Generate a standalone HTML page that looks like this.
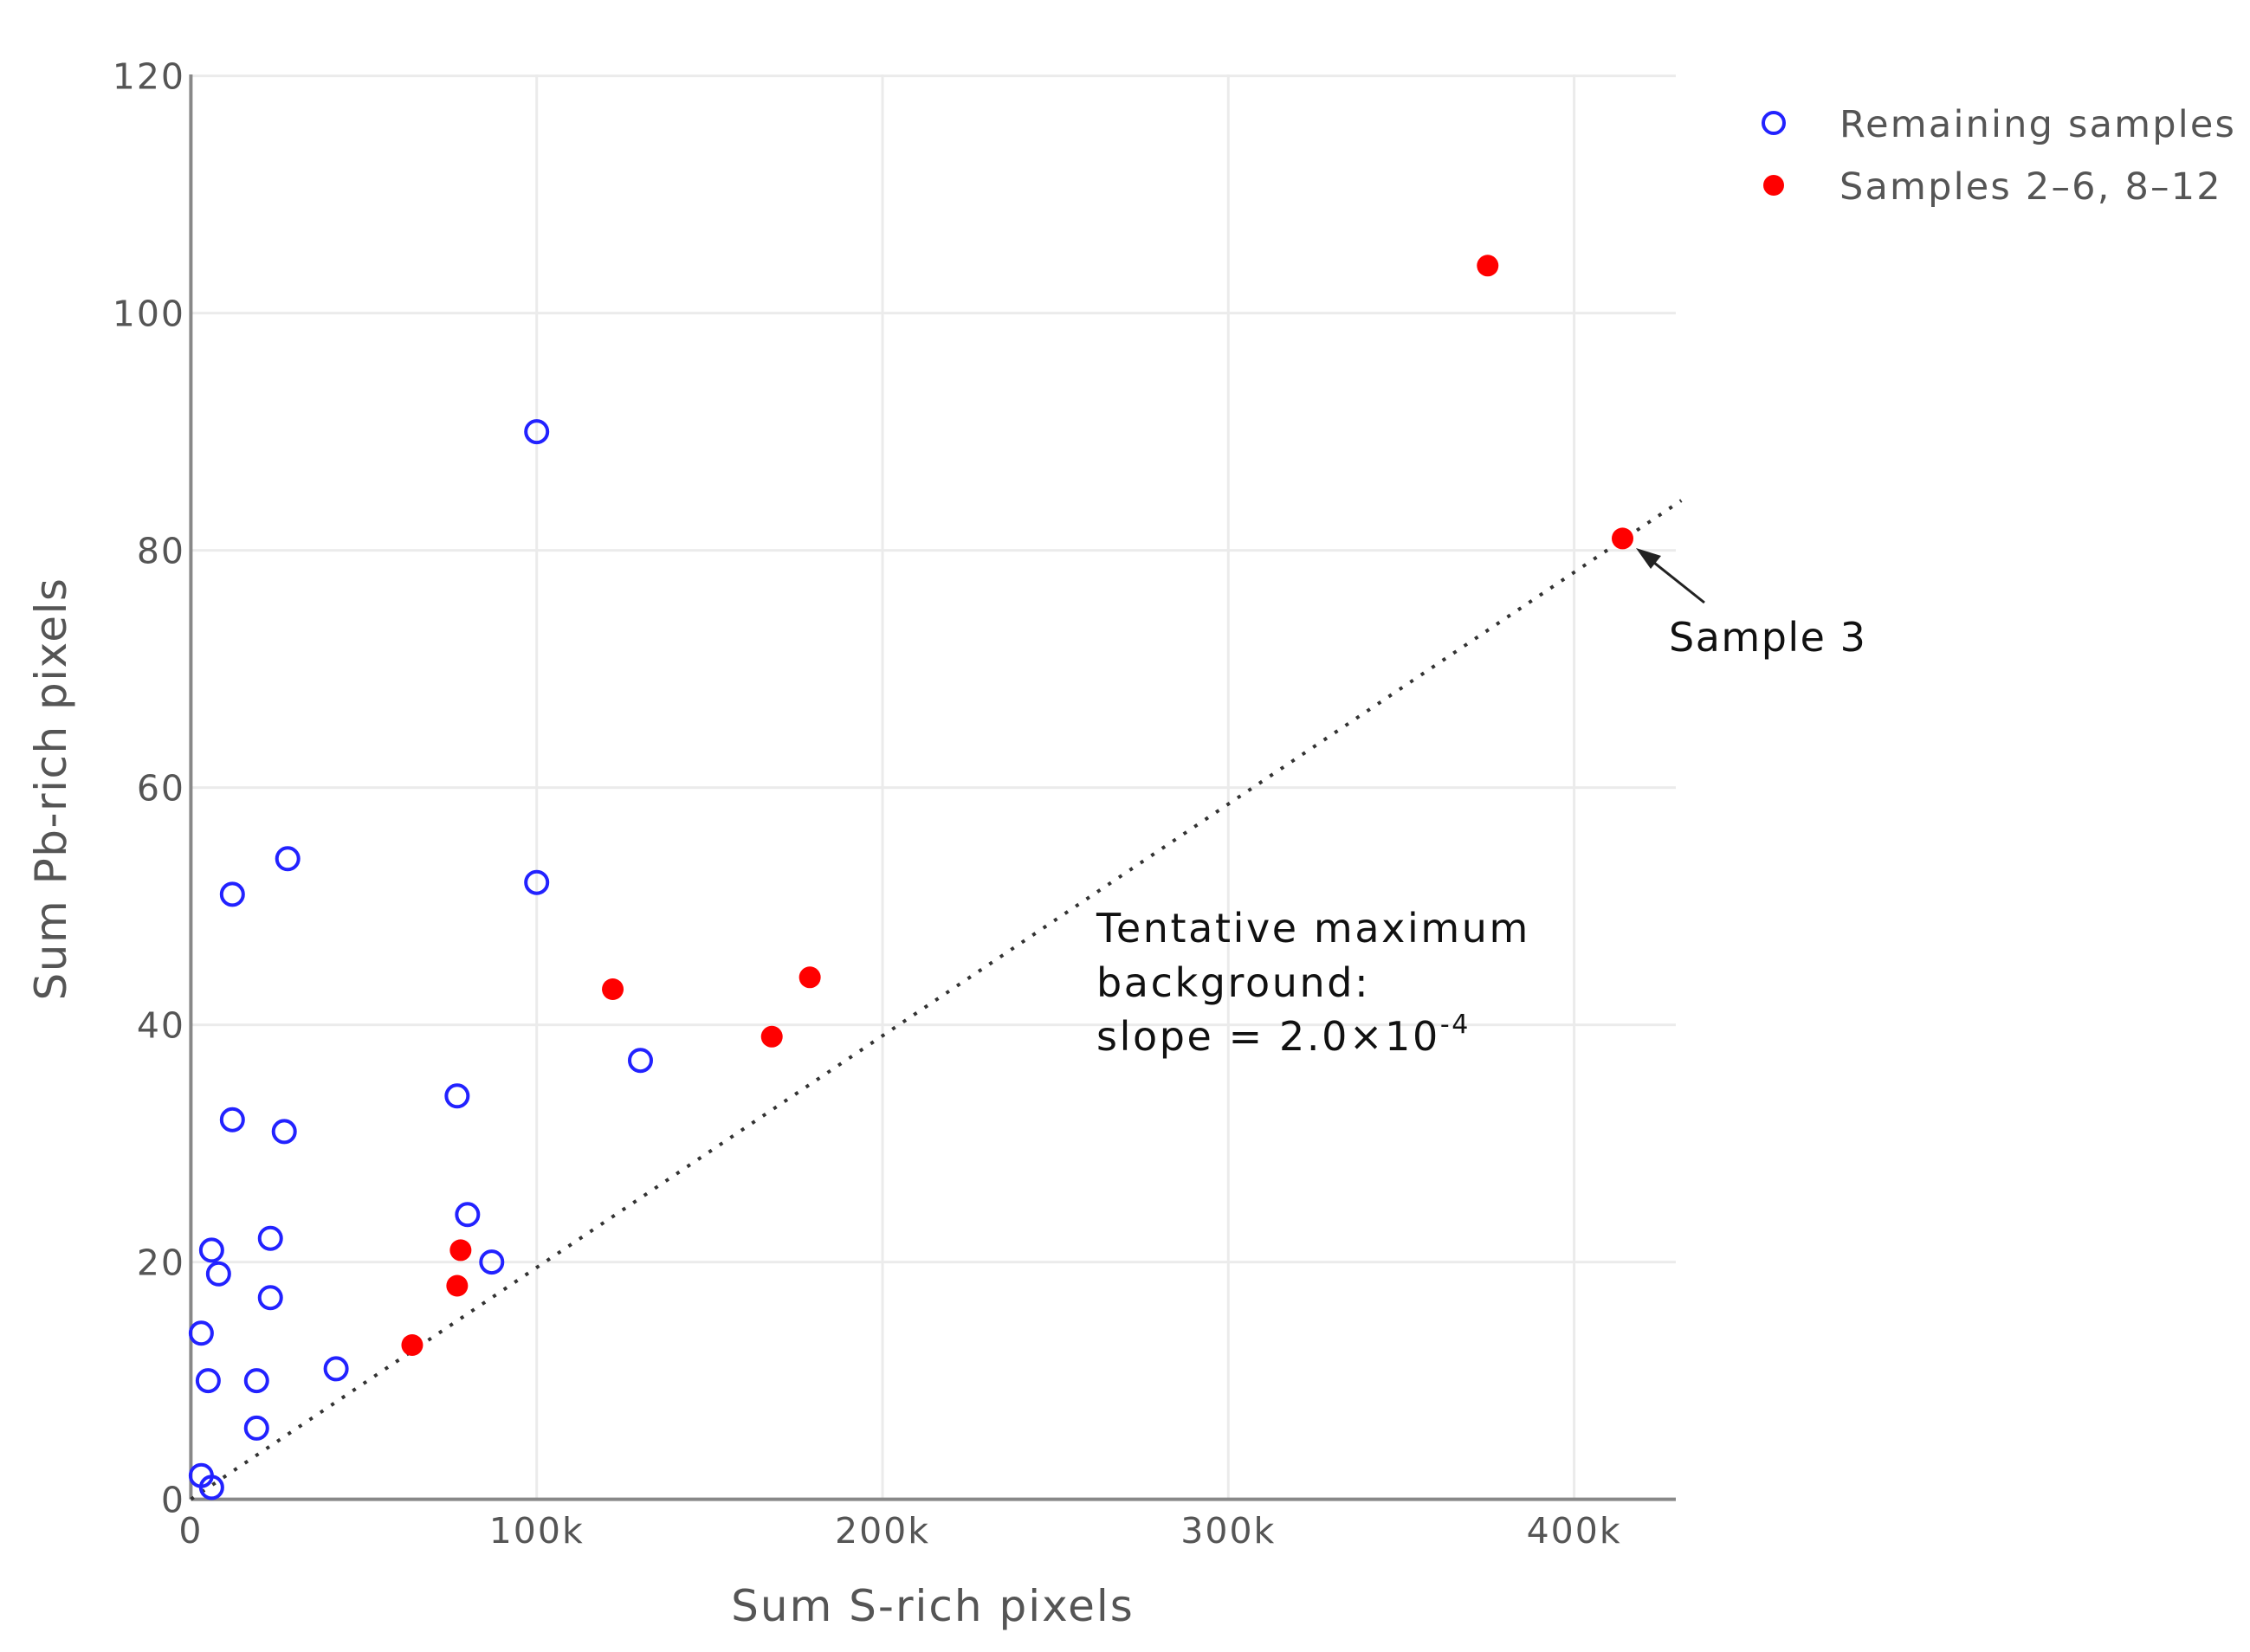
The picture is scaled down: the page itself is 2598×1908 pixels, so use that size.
<!DOCTYPE html>
<html><head><meta charset="utf-8"><style>
html,body{margin:0;padding:0;background:#fff}
svg{display:block}
</style></head><body>
<svg id="chart" width="2598" height="1908" xmlns="http://www.w3.org/2000/svg" font-family="'DejaVu Sans', 'Liberation Sans', sans-serif">
<g id="grid"></g>
<g id="axes"></g>
<g id="marks"></g>
<text x="1077" y="1872" font-size="50" fill="#555" text-anchor="middle" letter-spacing="2">Sum S-rich pixels</text>
<text transform="translate(76,911) rotate(-90)" font-size="50" fill="#555" text-anchor="middle" letter-spacing="1.5">Sum Pb-rich pixels</text>
<g>
<circle cx="2048" cy="142" r="12" fill="none" stroke="#2222ff" stroke-width="4"/>
<text x="2124" y="158" font-size="43" fill="#555" letter-spacing="2.2">Remaining samples</text>
<circle cx="2048" cy="214" r="12" fill="#ff0000"/>
<text x="2124" y="230" font-size="43" fill="#555" letter-spacing="2.2">Samples 2–6, 8–12</text>
</g>
<g font-size="46" fill="#111" letter-spacing="2.6">
<text x="1266" y="1088">Tentative maximum</text>
<text x="1266" y="1151">background:</text>
<text x="1266" y="1213">slope = 2.0×10<tspan dy="-20" font-size="30">-4</tspan></text>
</g>
<g>
<line x1="1968" y1="696" x2="1900" y2="642" stroke="#222" stroke-width="3"/>
<polygon points="1889,633 1918,642 1906,657" fill="#222"/>
<text x="1927" y="752" font-size="46" fill="#111" letter-spacing="1.5">Sample 3</text>
</g>
</svg>
<script>
const xTicks=[0,100,200,300,400];
const xTickLabels=["0","100k","200k","300k","400k"];
const yTicks=[0,20,40,60,80,100,120];
const blueX=[100,100,28,12,130,77,12,27,80,23,87,6,8,23,3,5,19,42,19,3,6];
const blueY=[90,52,54,51,37,34,32,31,24,22,20,21,19,17,14,10,10,11,6,2,1];
const redX=[375,414,122,179,168,78,77,64];
const redY=[104,81,43,44,39,21,18,13];
const lineX=[0,431];
const lineY=[0,84.2];
const NS="http://www.w3.org/2000/svg";
const X0=220.4,XS=3.993,Y0=1731.6,YS=13.7,XR=1935,YT=86;
const sx=v=>X0+v*XS, sy=v=>Y0-v*YS;
function mk(tag,attrs,parent){const e=document.createElementNS(NS,tag);for(const k in attrs)e.setAttribute(k,attrs[k]);parent.appendChild(e);return e;}
const grid=document.getElementById('grid'),axes=document.getElementById('axes'),marks=document.getElementById('marks');
xTicks.forEach((t,i)=>{
 if(t>0){const g=mk('line',{x1:sx(t),x2:sx(t),y1:YT,y2:Y0,stroke:'#ebebeb','stroke-width':3},grid);
 
 }
 const l=mk('text',{x:sx(t),y:1782,'font-size':41,fill:'#555','text-anchor':'middle','letter-spacing':2},axes);l.textContent=xTickLabels[i];
 
 
});
yTicks.forEach(t=>{
 if(t>0){const g=mk('line',{x1:X0,x2:XR,y1:sy(t),y2:sy(t),stroke:'#ebebeb','stroke-width':3},grid);
 
 }
 const l=mk('text',{x:214,y:sy(t)+15,'font-size':41,fill:'#555','text-anchor':'end','letter-spacing':2},axes);l.textContent=String(t);
 
 
});
const ax=mk('line',{x1:X0,x2:XR,y1:Y0,y2:Y0,stroke:'#888','stroke-width':4},axes);


const ay=mk('line',{x1:X0,x2:X0,y1:YT,y2:Y0,stroke:'#888','stroke-width':4},axes);


const bl=mk('line',{x1:sx(lineX[0]),y1:sy(lineY[0]),x2:sx(lineX[1]),y2:sy(lineY[1]),stroke:'#333','stroke-width':4,'stroke-dasharray':'4 11'},marks);


blueX.forEach((x,i)=>{
 const c=mk('circle',{cx:sx(x),cy:sy(blueY[i]),r:12.5,fill:'none',stroke:'#2222ff','stroke-width':4},marks);
 
 
});
redX.forEach((x,i)=>{
 const c=mk('circle',{cx:sx(x),cy:sy(redY[i]),r:12.5,fill:'#ff0000'},marks);
 
 
});
</script>
</body></html>
